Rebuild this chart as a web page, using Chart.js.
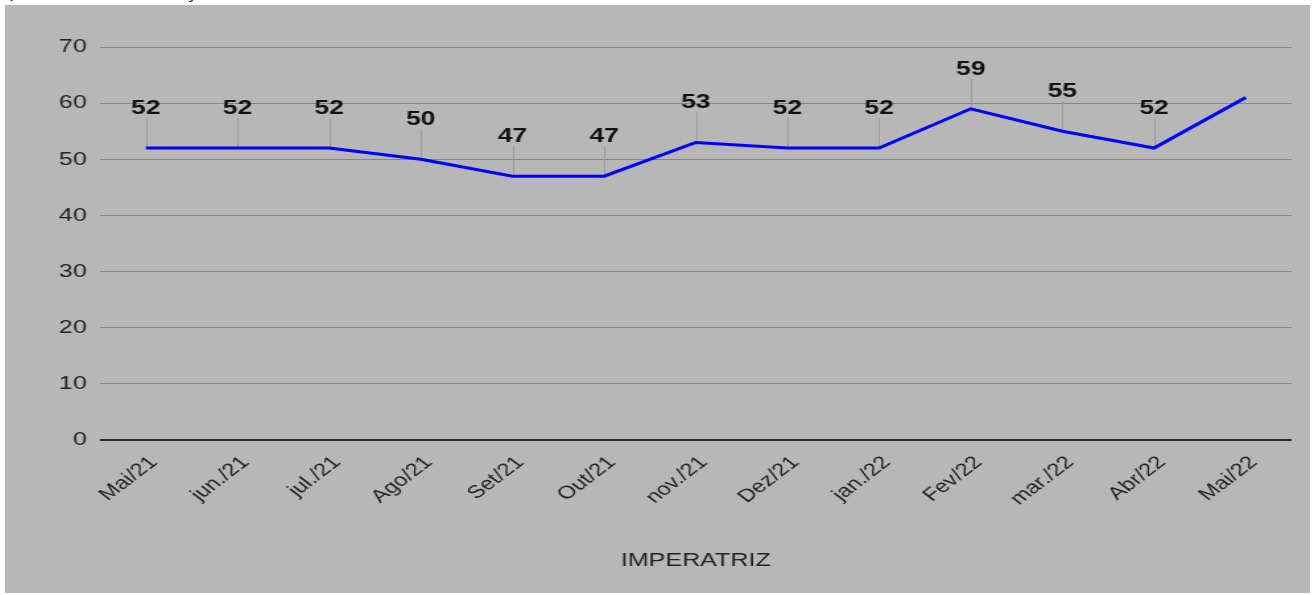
<!DOCTYPE html>
<html><head><meta charset="utf-8">
<script src="https://cdn.jsdelivr.net/npm/chart.js@4"></script>
<style>
html,body{margin:0;padding:0;background:#fff;width:1315px;height:595px;overflow:hidden;position:relative;}
#cap{position:absolute;left:1px;top:-20px;font:20px "Liberation Serif",serif;color:#000;white-space:pre;line-height:20px;}
#panel{position:absolute;left:5px;top:5px;width:1305px;height:588px;background:#b7b7b7;}
canvas{display:block}
</style></head><body>
<div id="cap">a)       Gráfico de evolução</div>
<div id="panel"><canvas id="c" width="989" height="588" style="width:1305px;height:588px"></canvas></div>
<script>
const categories = ['Mai/21','jun./21','jul./21','Ago/21','Set/21','Out/21','nov./21','Dez/21','jan./22','Fev/22','mar./22','Abr/22','Mai/22'];
const values = [52,52,52,50,47,47,53,52,52,59,55,52,61];
const showValueLabel = [true,true,true,true,true,true,true,true,true,true,true,true,false];
const yMin = 0, yMax = 70, yStep = 10;
const seriesName = 'IMPERATRIZ';

const FONT = '"Liberation Sans", Arial, sans-serif';

const valueLabels = {
  id: 'valueLabels',
  beforeDatasetsDraw(chart) {
    const ctx = chart.ctx;
    const meta = chart.getDatasetMeta(0);
    ctx.save();
    ctx.strokeStyle = '#9c9c9c';
    ctx.lineWidth = 1;
    meta.data.forEach((pt, i) => {
      if (!showValueLabel[i]) return;
      const x = Math.round(pt.x) + 0.5;
      ctx.beginPath();
      ctx.moveTo(x, pt.y - 30);
      ctx.lineTo(x, pt.y);
      ctx.stroke();
    });
    ctx.restore();
  },
  afterDatasetsDraw(chart) {
    const ctx = chart.ctx;
    const meta = chart.getDatasetMeta(0);
    ctx.save();
    ctx.font = 'bold 20px ' + FONT;
    ctx.fillStyle = '#111';
    ctx.textAlign = 'center';
    ctx.textBaseline = 'middle';
    meta.data.forEach((pt, i) => {
      if (!showValueLabel[i]) return;
      ctx.fillText(String(values[i]), pt.x, pt.y - 39.5);
    });
    ctx.restore();
  }
};

new Chart(document.getElementById('c'), {
  type: 'line',
  data: {
    labels: categories,
    datasets: [{
      label: seriesName,
      data: values,
      borderColor: '#0000ff',
      borderWidth: 3,
      pointRadius: 0,
      tension: 0,
      fill: false
    }]
  },
  options: {
    responsive: false,
    animation: false,
    devicePixelRatio: 1,
    layout: { padding: { top: 42, right: 14, left: 0, bottom: 0 } },
    plugins: { legend: { display: false }, tooltip: { enabled: false } },
    scales: {
      x: {
        offset: true,
        grid: { display: false },
        border: { display: false },
        ticks: {
          minRotation: 45, maxRotation: 45,
          color: '#222',
          padding: 4,
          labelOffset: 6,
          font: { family: FONT, size: 18 }
        },
        title: {
          display: true,
          text: seriesName,
          color: '#222',
          font: { family: FONT, size: 19 },
          padding: { top: 0, bottom: 21 }
        },
        afterFit(scale) { scale.height = 153; }
      },
      y: {
        min: yMin, max: yMax,
        border: { display: false },
        grid: {
          drawTicks: false,
          color: c => c.tick && c.tick.value === 0 ? '#2a2a2a' : '#858585',
          lineWidth: c => c.tick && c.tick.value === 0 ? 2 : 1
        },
        ticks: {
          stepSize: yStep,
          padding: 10,
          color: '#222',
          font: { family: FONT, size: 19 }
        },
        afterFit(scale) { scale.width = 72; }
      }
    }
  },
  plugins: [valueLabels]
});
</script>
</body></html>
